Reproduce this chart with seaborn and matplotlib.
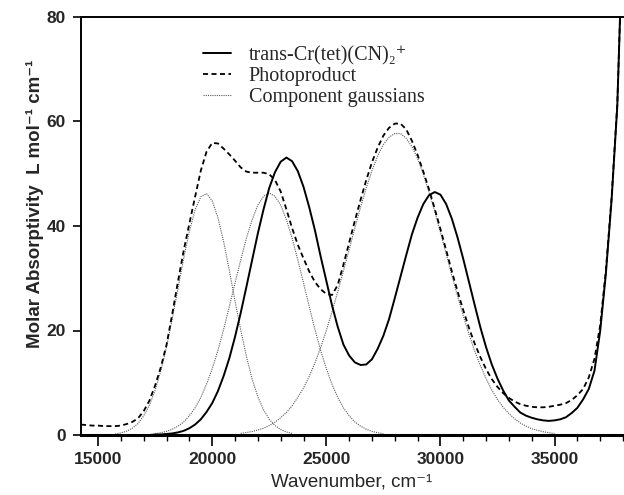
import numpy as np
import seaborn as sns
import matplotlib.pyplot as plt
from matplotlib.ticker import MultipleLocator

# wavenumber grid (cm-1), values every 250 cm-1
wavenumber = np.arange(14250, 38001, 250)

trans_cr = [0, 0, 0, 0, 0, 0, 0, 0, 0, 0, 0, 0, 0,
            0.1, 0.1, 0.2, 0.3, 0.5, 0.8, 1.3, 2.0,
            3.0, 4.4, 6.1, 8.4, 11.3, 14.7, 18.8, 23.4,
            28.4, 33.5, 38.6, 43.2, 47.3, 50.3, 52.3, 53.1,
            52.4, 50.5, 47.5, 43.6, 39.2, 34.2, 29.5, 24.8,
            20.7, 17.3, 15.2, 13.9, 13.4, 13.5, 14.5, 16.5,
            19.0, 22.2, 26.2, 30.3, 34.4, 38.4, 41.6, 44.2,
            45.9, 46.5, 46.0, 44.2, 41.4, 37.8, 33.7, 29.3,
            24.9, 20.6, 16.8, 13.5, 10.8, 8.5, 6.6, 5.4,
            4.3, 3.7, 3.3, 3.0, 2.8, 2.7, 2.8, 3.0,
            3.4, 4.2, 5.2, 6.8, 8.8, 12.3, 19.9, 30.9,
            45.0, 63.0, 98.0]

photoproduct = [2.0, 1.9, 1.8, 1.8, 1.7, 1.7, 1.7, 1.8,
                2.1, 2.5, 3.2, 4.6, 6.6, 9.5, 13.0, 17.3,
                23.2, 29.4, 35.3, 40.5, 45.6, 50.6, 54.2, 55.9,
                55.8, 54.8, 53.7, 52.5, 51.2, 50.4, 50.2, 50.2,
                50.2, 49.9, 48.8, 46.6, 43.2, 39.6, 36.4, 33.8,
                31.3, 29.3, 27.9, 27.0, 26.8, 28.7, 32.6, 36.8,
                41.0, 45.0, 48.8, 52.2, 55.0, 57.3, 58.8, 59.6,
                59.6, 58.5, 56.3, 53.6, 50.4, 47.0, 43.3, 39.4,
                35.4, 31.3, 27.5, 23.9, 20.5, 17.5, 14.9, 12.6,
                10.7, 9.2, 8.0, 7.1, 6.4, 5.9, 5.6, 5.4,
                5.3, 5.3, 5.4, 5.6, 5.8, 6.1, 6.7, 7.6,
                8.8, 11.0, 14.6, 21.0, 31.5, 45.5, 63.3, 98.0]

gauss1_x = np.arange(15750, 23501, 250)
gauss1 = [0.2, 0.4, 0.74, 1.3, 2.2, 3.7, 5.7, 8.6, 12.3, 16.9, 22.3, 28.0,
          33.8, 39.0, 43.1, 45.6, 46.2, 44.8, 41.6, 37.0, 31.5, 25.6, 20.1,
          15.0, 10.7, 7.3, 4.8, 3.0, 1.8, 1.05, 0.58, 0.31]

gauss2_x = np.arange(17500, 27501, 250)
gauss2 = [0.26, 0.44, 0.70, 1.1, 1.7, 2.5, 3.7, 5.2, 7.2, 9.7, 12.7, 16.2,
          20.2, 24.6, 29.1, 33.5, 37.7, 41.2, 44.0, 45.7, 46.3, 45.7, 44.0,
          41.2, 37.7, 33.5, 29.1, 24.6, 20.2, 16.2, 12.7, 9.7, 7.2, 5.2, 3.7,
          2.5, 1.7, 1.1, 0.70, 0.44, 0.26]

gauss3_x = np.arange(21250, 35001, 250)
gauss3 = [0.32, 0.47, 0.67, 0.95, 1.3, 1.8, 2.45, 3.3, 4.3, 5.6, 7.2, 9.0,
          11.2, 13.8, 16.7, 20.0, 23.6, 27.4, 31.4, 35.5, 39.6, 43.6, 47.3,
          50.6, 53.4, 55.6, 57.0, 57.7, 57.7, 56.8, 55.2, 52.9, 49.9, 46.5,
          42.8, 38.8, 34.7, 30.5, 26.6, 22.8, 19.3, 16.1, 13.3, 10.8, 8.6,
          6.8, 5.3, 4.1, 3.1, 2.3, 1.7, 1.2, 0.89, 0.63, 0.44, 0.30]

sns.set_style("ticks")
plt.rcParams['font.family'] = ['Liberation Sans', 'DejaVu Sans']

fig = plt.figure(figsize=(6.24, 4.95), dpi=100)
ax = fig.add_axes([81 / 624, 60 / 495, 542 / 624, 418 / 495])

# component gaussians (thin grey dotted)
gauss_kw = dict(color='0.35', lw=0.8, linestyle=(0, (1, 1)), zorder=2)
sns.lineplot(x=gauss1_x, y=gauss1, ax=ax, label='Component gaussians', **gauss_kw)
sns.lineplot(x=gauss2_x, y=gauss2, ax=ax, label='_nolegend_', **gauss_kw)
sns.lineplot(x=gauss3_x, y=gauss3, ax=ax, label='_nolegend_', **gauss_kw)

sns.lineplot(x=wavenumber, y=photoproduct, ax=ax, color='black', lw=1.3,
             linestyle=(0, (2.8, 1.9)), label='Photoproduct', zorder=3)
sns.lineplot(x=wavenumber, y=trans_cr, ax=ax, color='black', lw=1.4,
             label='trans-Cr(tet)(CN)\u2082\u207a', zorder=4)

ax.set_xlim(14250, 38000)
ax.set_ylim(0, 80)
ax.set_xticks([15000, 20000, 25000, 30000, 35000])
ax.xaxis.set_minor_locator(MultipleLocator(1000))
ax.set_yticks([0, 20, 40, 60, 80])

ax.tick_params(axis='both', which='both', direction='out', color='black',
               bottom=True, left=True, top=False, right=False)
ax.tick_params(axis='x', which='major', length=8, width=1.2, pad=4, labelsize=12.5)
ax.tick_params(axis='x', which='minor', length=4.3, width=1.0)
ax.tick_params(axis='y', which='major', length=6, width=1.2, pad=5, labelsize=12.5)
for lbl in ax.get_xticklabels() + ax.get_yticklabels():
    lbl.set_fontweight('bold')

ax.spines['right'].set_visible(False)
for side, w in [('top', 1.4), ('left', 1.4), ('bottom', 2.2)]:
    ax.spines[side].set_linewidth(w)
    ax.spines[side].set_color('black')

ax.set_xlabel('Wavenumber, cm\u207b\u00b9', fontsize=13.5)
ax.xaxis.set_label_coords(0.5, -0.093)
ax.set_ylabel('Molar Absorptivity  L mol\u207b\u00b9 cm\u207b\u00b9', fontsize=13.5,
              fontweight='bold')
ax.yaxis.set_label_coords(-0.068, 0.553)

handles, labels = ax.get_legend_handles_labels()
order = [labels.index('trans-Cr(tet)(CN)\u2082\u207a'), labels.index('Photoproduct'),
         labels.index('Component gaussians')]
ax.legend([handles[i] for i in order], [labels[i] for i in order],
          loc='upper left', bbox_to_anchor=(0.2255, 0.93), frameon=False,
          borderpad=0, borderaxespad=0, handlelength=1.4, handletextpad=0.85,
          labelspacing=0.08,
          prop={'family': ['Liberation Serif', 'DejaVu Serif'], 'size': 14.5})

fig.savefig('out.png', dpi=100)
